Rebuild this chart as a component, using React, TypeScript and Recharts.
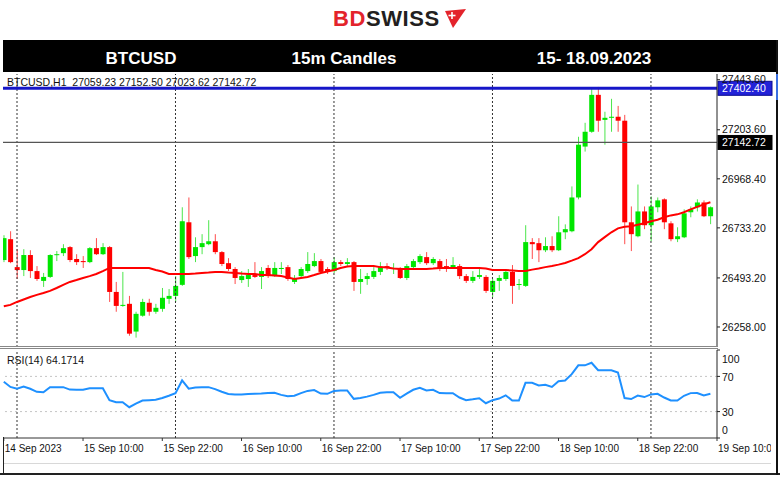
import React from 'react';
import { ComposedChart, Bar, Line, XAxis, YAxis, ReferenceLine } from 'recharts';

const FONT = "'Liberation Sans', Arial, sans-serif";

// Hourly candles, 14 Sep 22:00 .. 19 Sep 09:00 (index 0 = 14 Sep 22:00)
const openPrices = [
  26579, 26679, 26545, 26531, 26603, 26526, 26479, 26498, 26603, 26612,
  26641, 26584, 26574, 26569, 26636, 26607, 26641, 26426, 26359, 26369,
  26236, 26312, 26374, 26331, 26345, 26393, 26407, 26460, 26760, 26598,
  26641, 26655, 26669, 26617, 26564, 26536, 26483, 26488, 26507, 26498,
  26541, 26502, 26536, 26545, 26474, 26502, 26526, 26550, 26574, 26536,
  26526, 26569, 26560, 26569, 26474, 26488, 26498, 26522, 26550, 26536,
  26541, 26493, 26545, 26569, 26593, 26564, 26574, 26550, 26541, 26550,
  26502, 26479, 26498, 26498, 26426, 26479, 26488, 26522, 26460, 26455,
  26665, 26660, 26626, 26646, 26626, 26712, 26717, 26879, 27123, 27194,
  27371, 27251, 27261, 27266, 27247, 26760, 26693, 26812, 26746, 26832,
  26870, 26755, 26679, 26688, 26808, 26832, 26855, 26789,
];
const highPrices = [
  26698, 26717, 26631, 26631, 26626, 26550, 26517, 26607, 26622, 26655,
  26646, 26607, 26598, 26641, 26684, 26660, 26646, 26474, 26522, 26407,
  26331, 26393, 26393, 26369, 26445, 26440, 26502, 26832, 26879, 26688,
  26703, 26770, 26703, 26622, 26588, 26545, 26526, 26536, 26569, 26545,
  26555, 26569, 26569, 26555, 26507, 26545, 26617, 26612, 26584, 26545,
  26593, 26579, 26588, 26574, 26536, 26517, 26545, 26569, 26564, 26564,
  26545, 26560, 26584, 26607, 26617, 26593, 26584, 26584, 26593, 26560,
  26512, 26526, 26536, 26507, 26488, 26507, 26536, 26555, 26488, 26746,
  26684, 26684, 26688, 26693, 26789, 26750, 26932, 27170, 27237, 27404,
  27409, 27290, 27352, 27318, 27275, 26836, 26941, 26836, 26884, 26879,
  26875, 26765, 26736, 26822, 26836, 26870, 26865, 26836,
];
const lowPrices = [
  26569, 26564, 26488, 26502, 26493, 26479, 26450, 26493, 26574, 26598,
  26569, 26555, 26541, 26564, 26603, 26603, 26378, 26331, 26355, 26216,
  26207, 26307, 26312, 26321, 26331, 26369, 26378, 26455, 26584, 26569,
  26607, 26650, 26607, 26550, 26526, 26464, 26469, 26450, 26493, 26440,
  26493, 26498, 26512, 26479, 26464, 26493, 26517, 26545, 26517, 26512,
  26517, 26550, 26545, 26431, 26417, 26460, 26488, 26507, 26531, 26512,
  26488, 26483, 26536, 26560, 26555, 26555, 26526, 26522, 26536, 26488,
  26469, 26469, 26488, 26421, 26402, 26431, 26479, 26369, 26436, 26450,
  26584, 26569, 26617, 26617, 26622, 26679, 26712, 26870, 27099, 27189,
  27194, 27132, 27194, 27194, 26655, 26622, 26688, 26727, 26669, 26808,
  26727, 26669, 26665, 26684, 26784, 26812, 26785, 26751,
];
const closePrices = [
  26684, 26569, 26531, 26603, 26526, 26488, 26498, 26603, 26607, 26636,
  26579, 26569, 26569, 26636, 26607, 26641, 26426, 26359, 26364, 26226,
  26321, 26378, 26331, 26350, 26398, 26407, 26455, 26765, 26593, 26641,
  26660, 26669, 26617, 26560, 26536, 26493, 26502, 26507, 26498, 26526,
  26502, 26541, 26541, 26488, 26493, 26536, 26560, 26574, 26522, 26522,
  26569, 26560, 26569, 26474, 26488, 26502, 26526, 26545, 26541, 26541,
  26493, 26550, 26574, 26598, 26564, 26584, 26536, 26541, 26555, 26502,
  26479, 26498, 26507, 26431, 26479, 26493, 26522, 26455, 26464, 26665,
  26655, 26626, 26646, 26626, 26712, 26727, 26879, 27132, 27194, 27371,
  27247, 27261, 27266, 27247, 26760, 26703, 26812, 26746, 26836, 26865,
  26760, 26679, 26693, 26803, 26822, 26855, 26789, 26832,
];
const maValues = [
  26357, 26364, 26378, 26390, 26402, 26412, 26421, 26431, 26445, 26460,
  26474, 26483, 26493, 26502, 26512, 26526, 26541, 26541, 26541, 26541,
  26541, 26541, 26541, 26531, 26524, 26512, 26512, 26512, 26512, 26514,
  26517, 26519, 26522, 26522, 26519, 26517, 26514, 26512, 26512, 26507,
  26507, 26505, 26502, 26495, 26488, 26493, 26498, 26507, 26517, 26524,
  26531, 26541, 26548, 26550, 26550, 26550, 26550, 26545, 26543, 26538,
  26536, 26536, 26536, 26536, 26536, 26538, 26541, 26541, 26541, 26541,
  26541, 26541, 26541, 26538, 26531, 26531, 26531, 26529, 26526, 26526,
  26533, 26538, 26545, 26550, 26557, 26565, 26576, 26588, 26607, 26631,
  26665, 26689, 26712, 26731, 26739, 26741, 26748, 26755, 26765, 26772,
  26784, 26793, 26798, 26808, 26822, 26834, 26846, 26856,
];
const rsiValues = [
  64, 58, 56, 58.5, 56, 52.5, 52, 57.8, 57.8, 57.8,
  55, 54.8, 54.8, 56.6, 56.6, 56.6, 43, 40.6, 40.6, 35,
  39, 42.6, 43, 43.4, 45.5, 48, 51, 65.4, 56, 57.5,
  57.8, 57.8, 55.5, 52.5, 50, 49.4, 49.5, 50, 50.2, 50.5,
  51, 51.3, 49, 47.5, 48, 51, 53.5, 54.5, 50.5, 50.2,
  53.5, 54, 54, 44.5, 45.5, 47, 49, 51.5, 52, 52,
  45.6, 50.5, 54.8, 57, 54, 54.8, 51, 50.9, 50.9, 46,
  43, 44, 45.2, 39.5, 43, 44.8, 48.5, 42.6, 42.6, 62.7,
  62.7, 59.8, 60.5, 58, 64.6, 65.4, 72.5, 82.6, 82.6, 85.5,
  77, 77, 76.9, 74.5, 45.4, 44.3, 48.2, 46.5, 49.5, 50.2,
  46, 42.6, 42.6, 48, 51, 51.2, 48.3, 50.2,
];

const timeTickIndex = [0, 12, 24, 36, 48, 60, 72, 84, 96, 108];
const timeTickLabels = [
  '14 Sep 2023', '15 Sep 10:00', '15 Sep 22:00', '16 Sep 10:00', '16 Sep 22:00',
  '17 Sep 10:00', '17 Sep 22:00', '18 Sep 10:00', '18 Sep 22:00', '19 Sep 10:00',
];
const midnightIndex = [2, 26, 50, 74, 98];
const priceTicks = [26258.0, 26493.2, 26733.2, 26968.4, 27203.6, 27443.6];
const rsiTicks = [0, 30, 70, 100];
const rsiLevels = [30, 70];
const askLine = 27402.4;
const lastLine = 27142.72;
const headerTitles = ['BTCUSD', '15m Candles', '15- 18.09.2023'];
const infoText = 'BTCUSD,H1  27059.23 27152.50 27023.62 27142.72';
const rsiText = 'RSI(14) 64.1714';

const data = openPrices.map((open, i) => ({
  i,
  open,
  high: highPrices[i],
  low: lowPrices[i],
  close: closePrices[i],
  ma: maValues[i],
  rsi: rsiValues[i],
}));

const X_DOMAIN: [number, number] = [-0.12, 108];

function Candle(props: any) {
  const { x, y, width, height, payload } = props;
  if (!payload) return null;
  const { open, close, high, low } = payload;
  const up = close >= open;
  const body = up ? '#00E600' : '#FF0000';
  const wick = up ? '#4CE64C' : '#FF4C4C';
  const top = Math.min(y, y + height);
  const h = Math.abs(height);
  const span = high - low;
  const k = span > 0 ? h / span : 0;
  const bTop = top + (high - Math.max(open, close)) * k;
  const bBot = top + (high - Math.min(open, close)) * k;
  const cx = x + width / 2;
  return (
    <g>
      <line x1={cx} x2={cx} y1={top} y2={top + h} stroke={wick} strokeWidth={1} />
      <rect x={x} y={bTop} width={width} height={Math.max(1, bBot - bTop)} fill={body} />
    </g>
  );
}

const priceBox = (fill: string, text: string, border: string) => (props: any) => {
  const vb = props.viewBox || {};
  const x = (vb.x || 0) + (vb.width || 0) + 1;
  const y = vb.y || 0;
  return (
    <g>
      <rect x={x} y={y - 7} width={54} height={14} fill={fill} stroke={border} strokeWidth={1} />
      <text x={x + 4} y={y + 4} fontSize={10.5} fill="#fff" fontFamily={FONT}>
        {text}
      </text>
    </g>
  );
};

const TimeTick = (props: any) => {
  const { x, y, payload } = props;
  const idx = timeTickIndex.indexOf(payload.value);
  return (
    <text x={x + 1} y={y + 9} fontSize={10} fill="#111" fontFamily={FONT} textAnchor="start">
      {idx >= 0 ? timeTickLabels[idx] : ''}
    </text>
  );
};

const RsiTick = (props: any) => {
  const { x, y, payload } = props;
  const v = payload.value;
  const shift = v === 100 ? 9 : v === 0 ? -8 : 1;
  return (
    <text x={x} y={y + shift} dy="0.355em" fontSize={10.5} fill="#111" fontFamily={FONT} textAnchor="start">
      {v}
    </text>
  );
};

const abs = (s: React.CSSProperties): React.CSSProperties => ({ position: 'absolute', ...s });

export default function App() {
  return (
    <div style={abs({ left: 0, top: 0, width: 780, height: 480, background: '#fff', overflow: 'hidden' })}>
      {/* Logo */}
      <div
        style={abs({
          left: 333, top: 8, fontFamily: FONT, fontWeight: 700, fontSize: 22, lineHeight: '22px',
          letterSpacing: 0.6, whiteSpace: 'nowrap',
        })}
      >
        <span style={{ color: '#E3232B' }}>BD</span>
        <span style={{ color: '#231F20' }}>SWISS</span>
      </div>
      <svg style={abs({ left: 440, top: 6, width: 28, height: 24 })} width={28} height={24}>
        <polygon points="5,5 26,3 13,22" fill="#E3232B" />
        <line x1={12} y1={6} x2={12} y2={13} stroke="#fff" strokeWidth={1.6} />
        <line x1={8.5} y1={9.5} x2={15.5} y2={9.5} stroke="#fff" strokeWidth={1.6} />
      </svg>

      {/* Header bar */}
      <div style={abs({ left: 3, top: 40, width: 774, height: 32, background: '#000' })} />
      {[141, 344, 594].map((cx, k) => (
        <div
          key={k}
          style={abs({
            left: cx - 100, top: 50, width: 200, textAlign: 'center', color: '#fff', fontFamily: FONT,
            fontWeight: 700, fontSize: 17, lineHeight: '17px', whiteSpace: 'nowrap',
          })}
        >
          {headerTitles[k]}
        </div>
      ))}

      {/* Main price panel */}
      <div style={abs({ left: 0, top: 74 })}>
        <ComposedChart width={780} height={273} data={data} margin={{ top: 0, right: 0, bottom: 0, left: 3 }}>
          <XAxis dataKey="i" type="number" domain={X_DOMAIN} allowDataOverflow hide />
          <YAxis
            orientation="right"
            width={63}
            domain={[26162, 27471]}
            allowDataOverflow
            ticks={priceTicks}
            interval={0}
            tickFormatter={(v: number) => v.toFixed(2)}
            axisLine={{ stroke: '#222' }}
            tickLine={{ stroke: '#222' }}
            tickSize={3}
            tickMargin={2}
            tick={{ fontSize: 10.5, fill: '#111', fontFamily: FONT }}
          />
          {midnightIndex.map((m) => (
            <ReferenceLine key={m} x={m} stroke="#333" strokeDasharray="2 2" strokeWidth={1} />
          ))}
          <ReferenceLine y={lastLine} stroke="#555" strokeWidth={1.2} label={priceBox('#000', lastLine.toFixed(2), '#000')} />
          <Bar
            dataKey={(d: any) => [d.low, d.high]}
            barSize={5}
            shape={Candle}
            isAnimationActive={false}
          />
          <Line
            dataKey="ma"
            type="linear"
            stroke="#FF0000"
            strokeWidth={2}
            dot={false}
            activeDot={false}
            isAnimationActive={false}
          />
          <ReferenceLine y={askLine} stroke="#1616C8" strokeWidth={3} label={priceBox('#2222D8', askLine.toFixed(2), '#0a0a90')} />
        </ComposedChart>
      </div>
      <div style={abs({ left: 7, top: 77, fontFamily: FONT, fontSize: 10.5, lineHeight: '11px', color: '#111', whiteSpace: 'pre' })}>
        {infoText}
      </div>

      {/* Panel separator */}
      <div style={abs({ left: 0, top: 346, width: 718, height: 1, background: '#888' })} />
      <div style={abs({ left: 0, top: 348, width: 718, height: 1, background: '#888' })} />

      {/* RSI panel */}
      <div style={abs({ left: 0, top: 349, width: 771, height: 115, overflow: 'hidden' })}>
        <ComposedChart width={780} height={115} data={data} margin={{ top: 1, right: 0, bottom: 0, left: 3 }}>
          <XAxis
            dataKey="i"
            type="number"
            domain={X_DOMAIN}
            allowDataOverflow
            ticks={timeTickIndex}
            interval={0}
            height={26}
            axisLine={{ stroke: '#333' }}
            tickLine={{ stroke: '#333' }}
            tickSize={3}
            tickMargin={2}
            tick={TimeTick}
          />
          <YAxis
            orientation="right"
            width={63}
            domain={[0, 100]}
            allowDataOverflow
            ticks={rsiTicks}
            interval={0}
            axisLine={{ stroke: '#222' }}
            tickLine={{ stroke: '#222' }}
            tickSize={3}
            tickMargin={2}
            tick={RsiTick}
          />
          {rsiLevels.map((lv) => (
            <ReferenceLine key={lv} y={lv} stroke="#c4c4c4" strokeDasharray="2 3" strokeWidth={1} />
          ))}
          {midnightIndex.map((m) => (
            <ReferenceLine key={m} x={m} stroke="#333" strokeDasharray="2 2" strokeWidth={1} />
          ))}
          <Line
            dataKey="rsi"
            type="linear"
            stroke="#1E90FF"
            strokeWidth={2}
            dot={false}
            activeDot={false}
            isAnimationActive={false}
          />
        </ComposedChart>
      </div>
      <div style={abs({ left: 7, top: 355, fontFamily: FONT, fontSize: 10.5, lineHeight: '11px', color: '#111', whiteSpace: 'pre' })}>
        {rsiText}
      </div>

      {/* Frame decorations */}
      <div style={abs({ left: 3, top: 463, width: 768, height: 1, background: '#d8d8d8' })} />
      <div style={abs({ left: 0, top: 473, width: 780, height: 2, background: '#222' })} />
      <div style={abs({ left: 3, top: 437, width: 1, height: 37, background: '#222' })} />
      <div style={abs({ left: 776, top: 40, width: 2, height: 435, background: '#111' })} />
      <div style={abs({ left: 776, top: 74, width: 2, height: 26, background: '#3a6fe0' })} />
    </div>
  );
}
